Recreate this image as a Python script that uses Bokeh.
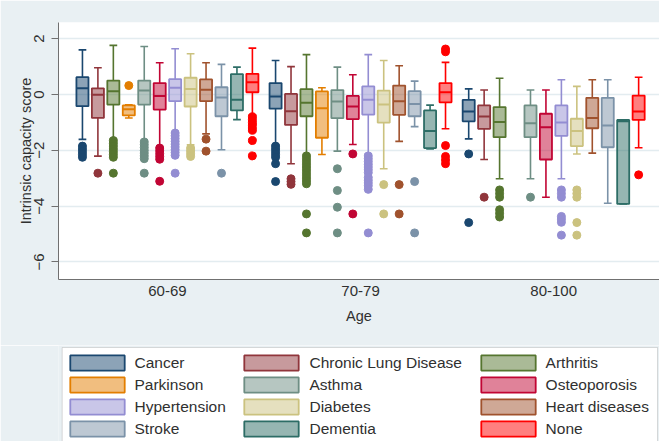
from bokeh.plotting import figure
from bokeh.layouts import column
from bokeh.models import (ColumnDataSource, Legend, LegendItem, FixedTicker,
                          BoxAnnotation, Range1d)
from bokeh.embed import file_html
from bokeh.resources import INLINE

# ---------------- data ----------------
age_groups = ["60-69", "70-79", "80-100"]
conditions = ["Cancer", "Chronic Lung Disease", "Arthritis", "Parkinson", "Asthma",
              "Osteoporosis", "Hypertension", "Diabetes", "Heart diseases", "Stroke",
              "Dementia", "None"]

# 60-69
g1_hi = [1.60, 0.96, 1.76, -0.37, 1.72, 1.14, 1.64, 1.46, 1.14, 1.08, 0.98, 1.66]
g1_q3 = [0.62, 0.22, 0.50, -0.39, 0.50, 0.41, 0.55, 0.60, 0.54, 0.26, 0.73, 0.74]
g1_med = [0.22, -0.01, 0.12, -0.53, 0.14, -0.05, 0.24, 0.20, 0.17, -0.11, -0.19, 0.44]
g1_q1 = [-0.42, -0.84, -0.36, -0.75, -0.36, -0.54, -0.24, -0.43, -0.24, -0.78, -0.57, 0.08]
g1_lo = [-1.61, -2.21, -1.60, -0.84, -1.65, -1.89, -1.35, -1.80, -1.41, -1.98, -0.90, -0.75]
g1_out = [
    [-1.85, -1.95, -2.05, -2.15, -2.25],
    [-2.82],
    [-1.65, -1.75, -1.85, -1.95, -2.05, -2.15, -2.25, -2.82],
    [0.32],
    [-1.70, -1.80, -1.90, -2.00, -2.10, -2.20, -2.30, -2.82],
    [-1.92, -2.02, -2.12, -2.22, -2.32, -3.11],
    [-1.38, -1.48, -1.58, -1.68, -1.78, -1.88, -1.98, -2.08, -2.18, -2.82],
    [-1.92, -2.02, -2.12, -2.22],
    [-1.60, -2.03],
    [-2.82],
    [],
    [-0.80, -0.90, -1.00, -1.10, -1.20, -1.28, -1.65, -2.20],
]

# 70-79
g2_hi = [1.22, 1.00, 1.43, 0.24, 0.98, 0.71, 1.43, 1.22, 1.03, 0.48, -0.38, 1.15]
g2_q3 = [0.41, 0.02, 0.19, 0.11, 0.16, -0.05, 0.29, 0.14, 0.32, 0.12, -0.57, 0.41]
g2_med = [-0.07, -0.60, -0.30, -0.49, -0.25, -0.43, -0.19, -0.36, -0.24, -0.34, -1.31, 0.08]
g2_q1 = [-0.51, -1.09, -0.78, -1.55, -0.85, -0.88, -0.72, -1.01, -0.73, -0.78, -1.92, -0.28]
g2_lo = [-1.80, -2.48, -2.15, -2.15, -2.03, -1.79, -2.13, -2.66, -1.68, -1.15, -1.95, -1.23]
g2_out = [
    [-1.85, -1.95, -2.05, -2.15, -2.25, -2.48, -3.12],
    [-3.02, -3.12, -3.22],
    [-2.20, -2.30, -2.40, -2.50, -2.60, -2.70, -2.80, -2.90, -3.00, -3.10, -3.20, -4.28, -4.96],
    [],
    [-2.66, -3.44, -4.04, -4.96],
    [-2.13, -4.28],
    [-2.20, -2.30, -2.40, -2.50, -2.60, -2.70, -2.80, -2.97, -3.07, -3.17, -3.27, -3.40, -4.96],
    [-3.23, -4.28],
    [-3.23, -4.28],
    [-3.12, -4.96],
    [],
    [1.63, 1.53, -1.83, -2.22, -2.35, -2.48],
]

# 80-100 (no Parkinson box)
g3_hi = [0.20, 0.16, 0.58, None, 0.16, 0.16, 0.53, 0.29, 0.53, 0.53, -0.91, 0.62]
g3_q3 = [-0.19, -0.39, -0.45, None, -0.39, -0.69, -0.39, -0.87, -0.12, -0.12, -0.91, -0.04]
g3_med = [-0.61, -0.79, -0.99, None, -1.03, -1.17, -1.00, -1.31, -0.84, -1.11, -0.96, -0.61]
g3_q1 = [-0.96, -1.23, -1.53, None, -1.53, -2.33, -1.48, -1.85, -1.21, -1.89, -3.92, -0.91]
g3_lo = [-1.59, -2.33, -3.02, None, -3.02, -3.68, -3.02, -2.13, -2.10, -3.90, -3.92, -1.91]
g3_out = [
    [-2.13, -4.59],
    [-3.68],
    [-3.42, -3.55, -3.68, -4.13, -4.26, -4.39],
    [],
    [-3.68],
    [],
    [-3.42, -3.55, -3.68, -4.37, -4.47, -4.58, -5.04],
    [-3.42, -3.55, -3.68, -4.59, -5.04],
    [],
    [],
    [],
    [-2.88],
]

y_ticks = [-6, -4, -2, 0, 2]

# ---------------- style ----------------
colors = ["#1a476f", "#90353b", "#55752f", "#e37e00", "#6e8e84", "#c10534",
          "#938dd2", "#cbc27f", "#a0522d", "#7b92a8", "#2d6d66", "#ff0000"]
FONT = "Liberation Sans"
BG = "#e9f0f3"
TXT = "#303030"

his = [g1_hi, g2_hi, g3_hi]
q3s = [g1_q3, g2_q3, g3_q3]
meds = [g1_med, g2_med, g3_med]
q1s = [g1_q1, g2_q1, g3_q1]
los = [g1_lo, g2_lo, g3_lo]
outs = [g1_out, g2_out, g3_out]

GROUP_STRIDE = 12.5
BOX_W = 0.78
CAP_W = 0.5
MAIN_H = 345
LEG_H = 96

p = figure(width=659, height=MAIN_H, output_backend="svg", toolbar_location=None,
           x_range=Range1d(-1.55, 37.35), y_range=Range1d(-6.63, 2.58),
           min_border_left=58, min_border_right=0, min_border_top=22,
           min_border_bottom=MAIN_H - 279)
p.background_fill_color = "white"
p.border_fill_color = BG
p.outline_line_color = None

for i, cond in enumerate(conditions):
    c = colors[i]
    d = dict(x=[], hi=[], q3=[], med=[], q1=[], lo=[], l=[], r=[], cl=[], cr=[])
    ox, oy = [], []
    for g in range(3):
        if q3s[g][i] is None:
            continue
        x = g * GROUP_STRIDE + i
        d["x"].append(x)
        d["hi"].append(his[g][i])
        d["q3"].append(q3s[g][i])
        d["med"].append(meds[g][i])
        d["q1"].append(q1s[g][i])
        d["lo"].append(los[g][i])
        d["l"].append(x - BOX_W / 2)
        d["r"].append(x + BOX_W / 2)
        d["cl"].append(x - CAP_W / 2)
        d["cr"].append(x + CAP_W / 2)
        for v in outs[g][i]:
            ox.append(x)
            oy.append(v)
    src = ColumnDataSource(d)
    p.segment(x0="x", y0="q3", x1="x", y1="hi", source=src, line_color=c, line_width=1.6)
    p.segment(x0="x", y0="q1", x1="x", y1="lo", source=src, line_color=c, line_width=1.6)
    p.segment(x0="cl", y0="hi", x1="cr", y1="hi", source=src, line_color=c, line_width=1.6)
    p.segment(x0="cl", y0="lo", x1="cr", y1="lo", source=src, line_color=c, line_width=1.6)
    p.vbar(x="x", width=BOX_W, top="q3", bottom="q1", source=src,
           fill_color=c, fill_alpha=0.5, line_color=c, line_width=1.8)
    p.segment(x0="l", y0="med", x1="r", y1="med", source=src, line_color=c, line_width=2)
    p.scatter(ox, oy, size=8, color=c)

# axes: one tick at the centre of each age group
tick_pos = [g * GROUP_STRIDE + (len(conditions) - 1) / 2 for g in range(len(age_groups))]
p.xaxis.ticker = FixedTicker(ticks=tick_pos)
p.xaxis.major_label_overrides = {t: lab for t, lab in zip(tick_pos, age_groups)}
p.xaxis.major_tick_out = 0
p.xaxis.major_tick_in = 0
p.xaxis.minor_tick_line_color = None
p.xaxis.axis_label = "Age"
p.xaxis.major_label_standoff = 6
p.xaxis.axis_label_standoff = 9

p.yaxis.ticker = FixedTicker(ticks=y_ticks)
p.yaxis.major_label_orientation = "vertical"
p.yaxis.major_tick_out = 7
p.yaxis.major_tick_in = 0
p.yaxis.minor_tick_line_color = None
p.yaxis.axis_label = "Intrinsic capacity score"
p.yaxis.major_label_standoff = 7
p.yaxis.axis_label_standoff = -2

for ax in (p.xaxis, p.yaxis):
    ax.axis_line_color = "#707070"
    ax.major_tick_line_color = "#707070"
    ax.major_label_text_font = FONT
    ax.major_label_text_font_size = "15px"
    ax.major_label_text_color = TXT
    ax.axis_label_text_font = FONT
    ax.axis_label_text_font_size = "14.5px"
    ax.axis_label_text_font_style = "normal"
    ax.axis_label_text_color = TXT

p.xgrid.grid_line_color = None
p.ygrid.grid_line_color = "#e3ecf0"
p.ygrid.grid_line_width = 1.5

# ---------------- legend panel ----------------
q = figure(width=659, height=LEG_H, output_backend="svg", toolbar_location=None,
           x_range=Range1d(0, 1), y_range=Range1d(0, 1),
           min_border_left=0, min_border_right=0, min_border_top=0, min_border_bottom=0)
q.axis.visible = False
q.grid.visible = False
q.outline_line_color = None
q.background_fill_color = BG
q.border_fill_color = BG

box = BoxAnnotation(left=3.7, right=599, top=LEG_H - 2, bottom=-20,
                    left_units="screen", right_units="screen",
                    top_units="screen", bottom_units="screen",
                    fill_color="white", fill_alpha=1.0,
                    line_color="#8a8a8a", line_width=1, level="underlay")
q.add_layout(box)

nan = float("nan")
leg_r = {}
for i, cond in enumerate(conditions):
    c = colors[i]
    # legend-only renderer (one undrawable NaN row so the legend swatch is painted)
    leg_r[cond] = q.vbar(x=[nan], top=[nan], bottom=[nan], width=0.1,
                         fill_color=c, fill_alpha=0.5, line_color=c, line_width=1.8)

col_order = ["Cancer", "Parkinson", "Hypertension", "Stroke",
             "Chronic Lung Disease", "Asthma", "Diabetes", "Dementia",
             "Arthritis", "Osteoporosis", "Heart diseases", "None"]
pad_labels = {"Hypertension": "Hypertension  ",
              "Chronic Lung Disease": "Chronic Lung Disease  "}
items = [LegendItem(label=pad_labels.get(c, c), renderers=[leg_r[c]]) for c in col_order]

legend = Legend(items=items, location=(4.5, 2.6), ncols=3, orientation="vertical",
                glyph_width=68, glyph_height=19, label_height=19,
                label_standoff=4, spacing=3, padding=4, margin=0,
                label_text_font=FONT, label_text_font_size="15.5px",
                label_text_color=TXT,
                background_fill_alpha=0, border_line_color=None)
q.add_layout(legend)

layout = column(p, q, spacing=0)
open("out.html", "w").write(file_html(layout, INLINE))
